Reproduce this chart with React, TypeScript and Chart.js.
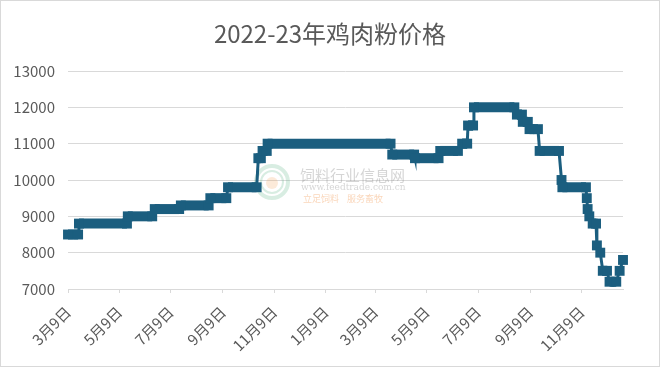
import React, { useEffect, useRef } from "react";
import { Chart, registerables } from "chart.js";

Chart.register(...registerables);

const TITLE = "2022-23年鸡肉粉价格";
const START_DATE = "2022-03-09";
const END_DATE = "2023-12-28";

const dates = [
  "2022-03-09", "2022-03-21", "2022-03-22", "2022-05-18", "2022-05-19", "2022-06-17",
  "2022-06-20", "2022-07-19", "2022-07-21", "2022-08-23", "2022-08-25", "2022-09-13",
  "2022-09-15", "2022-10-19", "2022-10-21", "2022-10-24", "2022-10-26", "2022-10-31",
  "2022-11-01", "2023-03-27", "2023-03-29", "2023-04-24", "2023-04-25", "2023-05-23",
  "2023-05-25", "2023-06-15", "2023-06-20", "2023-06-26", "2023-06-27", "2023-07-03",
  "2023-07-04", "2023-08-21", "2023-08-24", "2023-08-30", "2023-08-31", "2023-09-06",
  "2023-09-08", "2023-09-18", "2023-09-20", "2023-10-13", "2023-10-16", "2023-10-17",
  "2023-11-14", "2023-11-15", "2023-11-16", "2023-11-18", "2023-11-22", "2023-11-26",
  "2023-11-27", "2023-12-01", "2023-12-04", "2023-12-09", "2023-12-12", "2023-12-20",
  "2023-12-24", "2023-12-28",
];

const prices = [
  8500, 8500, 8800, 8800, 9000, 9000,
  9200, 9200, 9300, 9300, 9500, 9500,
  9800, 9800, 10600, 10600, 10800, 10800,
  11000, 11000, 10700, 10700, 10600, 10600,
  10800, 10800, 11000, 11000, 11500, 11500,
  12000, 12000, 11800, 11800, 11600, 11600,
  11400, 11400, 10800, 10800, 10000, 9800,
  9800, 9500, 9200, 9000, 8800, 8800,
  8200, 8000, 7500, 7500, 7200, 7200,
  7500, 7800,
];

const tickDates = [
  "2022-03-09", "2022-05-09", "2022-07-09", "2022-09-09", "2022-11-09", "2023-01-09",
  "2023-03-09", "2023-05-09", "2023-07-09", "2023-09-09", "2023-11-09",
];
const tickLabels = [
  "3月9日", "5月9日", "7月9日", "9月9日", "11月9日", "1月9日",
  "3月9日", "5月9日", "7月9日", "9月9日", "11月9日",
];

const Y_MIN = 7000;
const Y_MAX = 13000;
const Y_STEP = 1000;

const LINE_COLOR = "#1b5e7f";
const GRID_COLOR = "#d9d9d9";
const TEXT_COLOR = "#595959";
const FONT = '"Noto Sans CJK SC", "Noto Sans", sans-serif';

const dayOf = (s: string) => {
  const [y, m, d] = s.split("-").map(Number);
  const [y0, m0, d0] = START_DATE.split("-").map(Number);
  return Math.round((Date.UTC(y, m - 1, d) - Date.UTC(y0, m0 - 1, d0)) / 86400000);
};

const titlePlugin = {
  id: "customTitle",
  afterDraw(chart: any) {
    const ctx = chart.ctx;
    ctx.save();
    ctx.font = `24px ${FONT}`;
    ctx.fillStyle = TEXT_COLOR;
    ctx.textAlign = "center";
    ctx.textBaseline = "middle";
    ctx.fillText(TITLE, chart.width / 2, 33);
    ctx.restore();
  },
};

const watermarkPlugin = {
  id: "watermark",
  beforeDatasetsDraw(chart: any) {
    const ctx = chart.ctx;
    ctx.save();
    ctx.globalAlpha = 0.22;
    ctx.lineWidth = 4;
    ctx.strokeStyle = "#4caf7a";
    ctx.beginPath();
    ctx.arc(271, 181, 16, 0, Math.PI * 2);
    ctx.stroke();
    ctx.lineWidth = 2;
    ctx.beginPath();
    ctx.arc(271, 181, 11, 0, Math.PI * 2);
    ctx.stroke();
    ctx.fillStyle = "#f0a050";
    ctx.beginPath();
    ctx.arc(271, 182, 6, 0, Math.PI * 2);
    ctx.fill();
    ctx.globalAlpha = 0.35;
    ctx.fillStyle = "#888888";
    ctx.textBaseline = "middle";
    ctx.textAlign = "left";
    ctx.font = `15px ${FONT}`;
    ctx.fillText("饲料行业信息网", 299, 174);
    ctx.font = `9px "DejaVu Serif", serif`;
    ctx.fillText("www.feedtrade.com.cn", 300, 187);
    ctx.fillStyle = "#f08a3a";
    ctx.font = `9px ${FONT}`;
    ctx.fillText("立足饲料    服务畜牧", 302, 198);
    ctx.restore();
  },
};

export default function App() {
  const canvasRef = useRef<HTMLCanvasElement | null>(null);

  useEffect(() => {
    document.body.style.margin = "0";
    const canvas = canvasRef.current;
    if (!canvas) return;
    const tickDays = tickDates.map(dayOf);
    const points = dates.map((d, i) => ({ x: dayOf(d), y: prices[i] }));

    const chart = new Chart(canvas, {
      type: "line",
      data: {
        datasets: [
          {
            data: points,
            borderColor: LINE_COLOR,
            backgroundColor: LINE_COLOR,
            borderWidth: 3,
            pointStyle: "rect",
            pointRadius: 7,
            pointBorderWidth: 0,
            pointBackgroundColor: LINE_COLOR,
            tension: 0,
            clip: false,
            segment: {
              borderWidth: (ctx: any) => (ctx.p0.parsed.y === ctx.p1.parsed.y ? 10 : 3),
            },
          } as any,
        ],
      },
      options: {
        animation: false,
        responsive: false,
        maintainAspectRatio: false,
        events: [],
        layout: { padding: { top: 70, right: 36, bottom: 0, left: 0 } },
        plugins: {
          legend: { display: false },
          tooltip: { enabled: false },
          title: { display: false },
        },
        scales: {
          x: {
            type: "linear",
            min: 0,
            max: dayOf(END_DATE),
            afterBuildTicks: (scale: any) => {
              scale.ticks = tickDays.map((v) => ({ value: v }));
            },
            afterFit: (scale: any) => {
              scale.height = 77;
            },
            grid: {
              display: true,
              drawOnChartArea: false,
              drawTicks: true,
              tickLength: 4,
              color: GRID_COLOR,
            },
            border: { display: true, color: GRID_COLOR },
            ticks: {
              autoSkip: false,
              maxRotation: 45,
              minRotation: 45,
              padding: 10,
              color: TEXT_COLOR,
              font: { family: FONT, size: 15 },
              callback: (_v: any, i: number) => tickLabels[i],
            },
          },
          y: {
            min: Y_MIN,
            max: Y_MAX,
            afterFit: (scale: any) => {
              scale.width = 67;
            },
            grid: { color: GRID_COLOR, drawTicks: false, lineWidth: 1 },
            border: { display: false },
            ticks: {
              stepSize: Y_STEP,
              padding: 13,
              color: TEXT_COLOR,
              font: { family: FONT, size: 15 },
              callback: (v: any) => String(v),
            },
          },
        },
      } as any,
      plugins: [titlePlugin, watermarkPlugin],
    });
    return () => chart.destroy();
  }, []);

  return (
    <div
      style={{
        position: "relative",
        width: 660,
        height: 367,
        border: `1px solid ${GRID_COLOR}`,
        boxSizing: "border-box",
        background: "#fff",
      }}
    >
      <canvas ref={canvasRef} width={658} height={365} style={{ display: "block", width: 658, height: 365 }} />
    </div>
  );
}
